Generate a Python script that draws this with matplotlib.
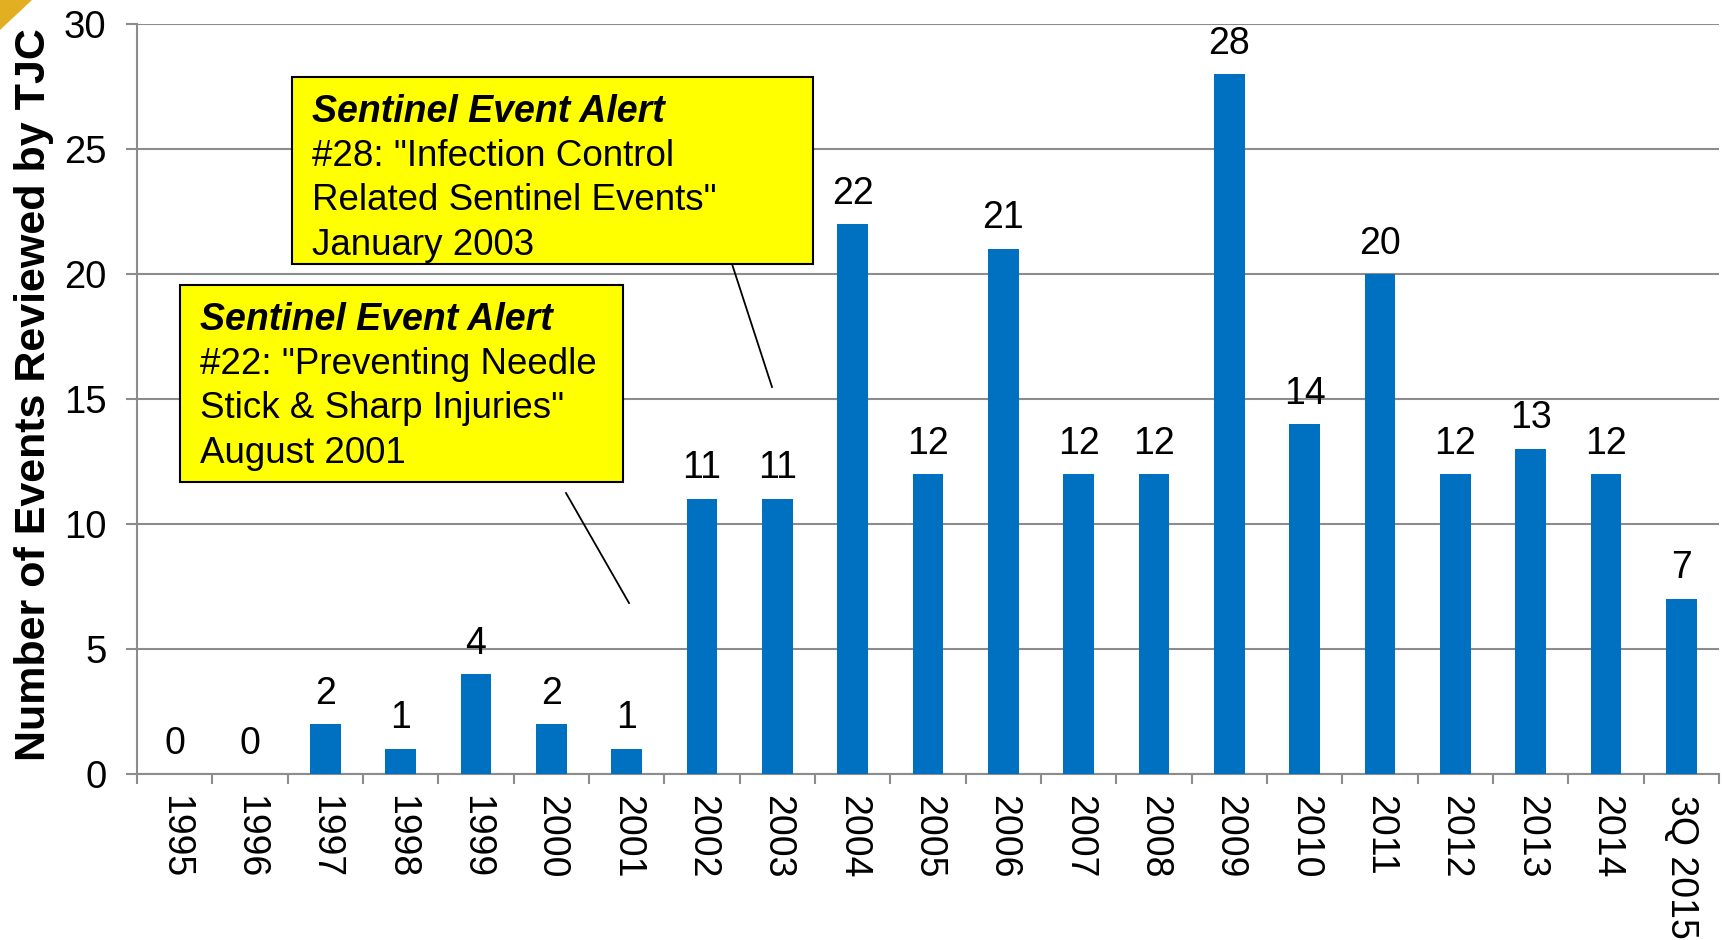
import matplotlib.pyplot as plt
from matplotlib.patches import Polygon

# Datos
years = ["1995", "1996", "1997", "1998", "1999", "2000", "2001", "2002", "2003",
         "2004", "2005", "2006", "2007", "2008", "2009", "2010", "2011", "2012",
         "2013", "2014", "3Q 2015"]
events = [0, 0, 2, 1, 4, 2, 1, 11, 11, 22, 12, 21, 12, 12, 28, 14, 20, 12, 13, 12, 7]

alert_28 = ["Sentinel Event Alert", '#28: "Infection Control',
            'Related Sentinel Events"', "January 2003"]
alert_22 = ["Sentinel Event Alert", '#22: "Preventing Needle',
            'Stick & Sharp Injuries"', "August 2001"]

plt.rcParams["font.family"] = ["Liberation Sans", "DejaVu Sans"]

W, H = 1723, 940
fig = plt.figure(figsize=(W / 100, H / 100), dpi=100, facecolor="white")
ax = fig.add_axes([137 / W, 1 - 774 / H, (1719 - 137) / W, (774 - 24) / H])

x = range(len(years))
bars = ax.bar(x, events, width=0.41, color="#0070C0", zorder=3)
ax.bar_label(bars, labels=[str(v) for v in events], padding=9, fontsize=27)

ax.set_xlim(-0.5, len(years) - 0.5)
ax.set_ylim(0, 30)
ax.set_yticks(range(0, 31, 5))
ax.set_xticks([i - 0.5 for i in range(len(years) + 1)], minor=False)
ax.set_xticklabels([])
ax.set_xticks(list(x), minor=True)
ax.set_xticklabels(years, minor=True, rotation=270, fontsize=27, va="top", ha="center")
ax.tick_params(axis="x", which="major", length=7, width=1.5, color="#8c8c8c")
ax.tick_params(axis="x", which="minor", length=0, pad=15)
ax.tick_params(axis="y", length=8, width=1.5, color="#8c8c8c", labelsize=27.5, pad=14)

ax.grid(axis="y", color="#8c8c8c", linewidth=1.5, zorder=0)
for s in ["top", "right"]:
    ax.spines[s].set_visible(False)
for s in ["left", "bottom"]:
    ax.spines[s].set_color("#8c8c8c")
    ax.spines[s].set_linewidth(1.5)

fig.text(34 / W, 1 - 395 / H, "Number of Events Reviewed by TJC", rotation=90,
         fontsize=31, fontweight="bold", ha="center", va="center")

# Cuadros de anotacion (coordenadas de figura en pixeles)
def alert_box(x0, y0, x1, y1, lines, line_from, line_to):
    fig.patches.append(plt.Rectangle((x0 / W, 1 - y1 / H), (x1 - x0) / W, (y1 - y0) / H,
                                     transform=fig.transFigure, facecolor="#FFFF00",
                                     edgecolor="black", linewidth=1.5, zorder=5))
    ty = y0 + 35
    for i, t in enumerate(lines):
        fig.text((x0 + 20) / W, 1 - ty / H, t, fontsize=27 if i == 0 else 26.5,
                 va="center", ha="left",
                 fontweight="bold" if i == 0 else "normal",
                 style="italic" if i == 0 else "normal", zorder=6)
        ty += 44.5
    fig.lines.append(plt.Line2D([line_from[0] / W, line_to[0] / W],
                                [1 - line_from[1] / H, 1 - line_to[1] / H],
                                transform=fig.transFigure, color="black", linewidth=1.3))

alert_box(292, 77, 813, 264, alert_28, (732, 264), (772, 387))
alert_box(180, 285, 623, 482, alert_22, (566, 493), (629, 603))

# Triangulo dorado en la esquina
fig.patches.append(Polygon([(0, 1), (32 / W, 1), (0, 1 - 30 / H)], closed=True,
                           transform=fig.transFigure, facecolor="#E2AF22", edgecolor="none"))

fig.savefig("out.png", dpi=100)
